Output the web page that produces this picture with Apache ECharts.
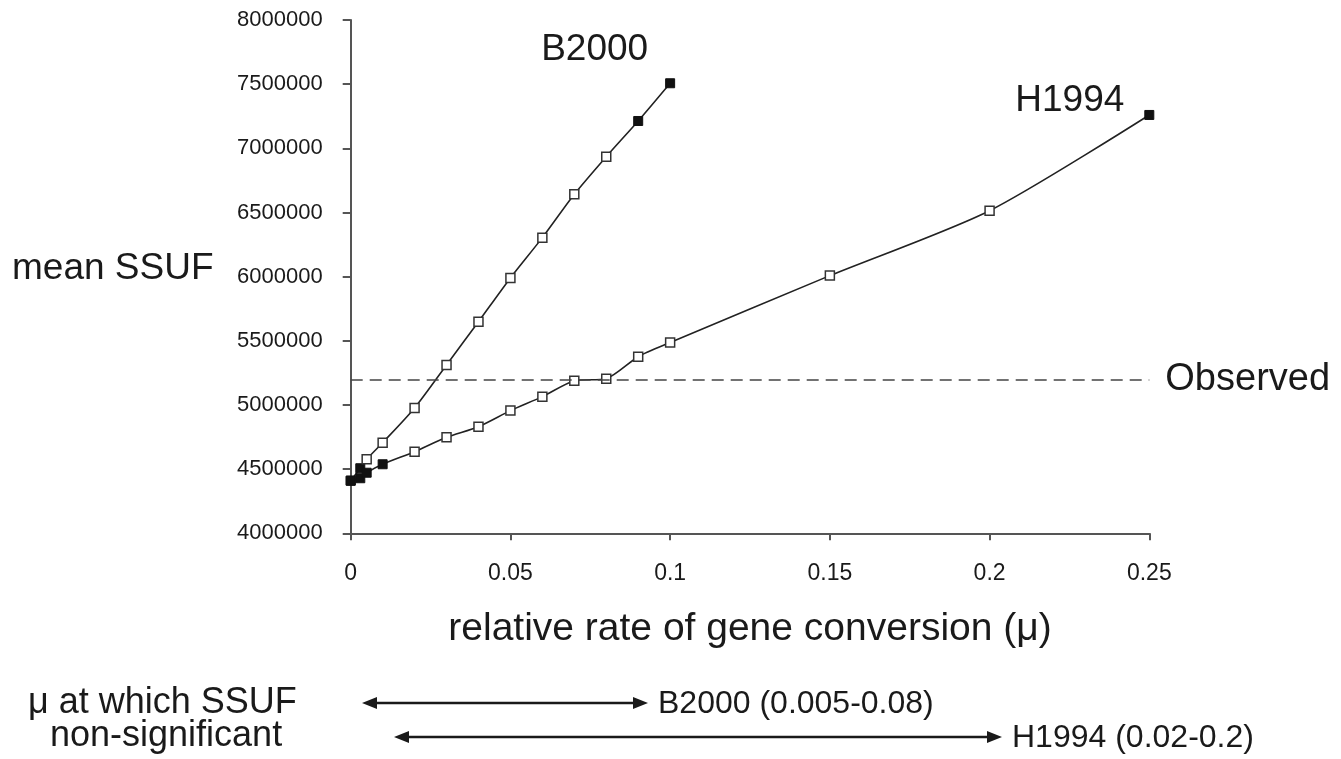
<!DOCTYPE html>
<html>
<head>
<meta charset="utf-8">
<script src="https://cdn.jsdelivr.net/npm/echarts@6/dist/echarts.min.js"></script>
<style>
html,body{margin:0;padding:0;background:#fff;}
#chart{width:1341px;height:759px;}
</style>
</head>
<body>
<div id="chart"></div>
<script>
// ---- data ----
const xB2000 = [0, 0.003, 0.005, 0.01, 0.02, 0.03, 0.04, 0.05, 0.06, 0.07, 0.08, 0.09, 0.1];
const yB2000 = [4410000, 4507000, 4577000, 4706000, 4977000, 5312000, 5649000, 5990000, 6304000, 6642000, 6935000, 7213000, 7507000];
const filledB2000 = [1, 1, 0, 0, 0, 0, 0, 0, 0, 0, 0, 1, 1];

const xH1994 = [0, 0.003, 0.005, 0.01, 0.02, 0.03, 0.04, 0.05, 0.06, 0.07, 0.08, 0.09, 0.1, 0.15, 0.2, 0.25];
const yH1994 = [4410000, 4429000, 4472000, 4538000, 4636000, 4748000, 4831000, 4956000, 5065000, 5189000, 5205000, 5376000, 5486000, 6008000, 6514000, 7260000];
const filledH1994 = [1, 1, 1, 1, 0, 0, 0, 0, 0, 0, 0, 0, 0, 0, 0, 1];

const observedValue = 5200000;
const xTickLabels = ['0', '0.05', '0.1', '0.15', '0.2', '0.25'];
const yTickLabels = ['4000000', '4500000', '5000000', '5500000', '6000000', '6500000', '7000000', '7500000', '8000000'];
const rangeLabels = ['B2000 (0.005-0.08)', 'H1994 (0.02-0.2)'];

const FONT = "'Liberation Sans', Arial, Helvetica, sans-serif";
const INK = '#1a1a1a';

function buildPoints(xs, ys, filled, lastLabel, labelOpts) {
  return xs.map((x, i) => {
    const p = {
      value: [x, ys[i]],
      itemStyle: filled[i]
        ? { color: '#111', borderColor: '#111', borderWidth: 1 }
        : { color: '#fff', borderColor: '#333', borderWidth: 1.5 }
    };
    if (i === xs.length - 1) {
      p.label = Object.assign({
        show: true, formatter: lastLabel, color: INK,
        fontFamily: FONT, fontSize: 37
      }, labelOpts);
    }
    return p;
  });
}

const chart = echarts.init(document.getElementById('chart'), null, { renderer: 'canvas' });

const arrowLine = (x1, x2, y) => ([
  { type: 'line', shape: { x1: x1 + 10, y1: y, x2: x2 - 10, y2: y }, style: { stroke: INK, lineWidth: 2.5 } },
  { type: 'polygon', shape: { points: [[x1, y], [x1 + 15, y - 6], [x1 + 15, y + 6]] }, style: { fill: INK } },
  { type: 'polygon', shape: { points: [[x2, y], [x2 - 15, y - 6], [x2 - 15, y + 6]] }, style: { fill: INK } }
]);

chart.setOption({
  animation: false,
  backgroundColor: '#fff',
  grid: { left: 350.7, right: 191.7, top: 20, bottom: 225.7, containLabel: false },
  xAxis: {
    type: 'value', min: 0, max: 0.25, interval: 0.05,
    name: 'relative rate of gene conversion (\u03bc)',
    nameLocation: 'middle', nameGap: 76,
    nameTextStyle: { fontFamily: FONT, fontSize: 39, color: INK },
    axisLine: { show: true, onZero: false, lineStyle: { color: '#555', width: 2 } },
    axisTick: { show: true, inside: false, length: 7, lineStyle: { color: '#555', width: 2 } },
    axisLabel: {
      margin: 29, fontFamily: FONT, fontSize: 23, color: INK,
      formatter: (v) => xTickLabels[Math.round(v / 0.05)]
    },
    splitLine: { show: false }
  },
  yAxis: {
    type: 'value', min: 4000000, max: 8000000, interval: 500000,
    axisLine: { show: true, lineStyle: { color: '#555', width: 2 } },
    axisTick: { show: true, inside: false, length: 8, lineStyle: { color: '#555', width: 2 } },
    axisLabel: {
      margin: 28, fontFamily: FONT, fontSize: 22, color: INK,
      formatter: (v) => yTickLabels[Math.round((v - 4000000) / 500000)]
    },
    splitLine: { show: false }
  },
  series: [
    {
      name: 'B2000', type: 'line', smooth: 0.25,
      symbol: 'rect', symbolSize: 9,
      lineStyle: { color: '#222', width: 1.6 },
      data: buildPoints(xB2000, yB2000, filledB2000, 'B2000',
        { position: 'left', distance: 17, offset: [0, -33] }),
      z: 3
    },
    {
      name: 'H1994', type: 'line', smooth: 0.25,
      symbol: 'rect', symbolSize: 9,
      lineStyle: { color: '#222', width: 1.6 },
      data: buildPoints(xH1994, yH1994, filledH1994, 'H1994',
        { position: 'left', distance: 20, offset: [0, -14] }),
      markLine: {
        silent: true, symbol: ['none', 'none'],
        lineStyle: { color: '#444', width: 1.6, type: [12, 7] },
        label: {
          show: true, position: 'end', distance: 16, formatter: 'Observed',
          fontFamily: FONT, fontSize: 38, color: INK
        },
        data: [[{ coord: [0, observedValue] }, { coord: [0.25, observedValue] }]]
      },
      z: 3
    }
  ],
  graphic: [
    { type: 'text', left: 12, top: 250, style: { text: 'mean SSUF', fontFamily: FONT, fontSize: 37, fill: INK } },
    { type: 'text', left: 28, top: 685, style: { text: '\u03bc at which SSUF', fontFamily: FONT, fontSize: 36, fill: INK } },
    { type: 'text', left: 50, top: 718, style: { text: 'non-significant', fontFamily: FONT, fontSize: 36, fill: INK } },
    ...arrowLine(362, 648, 703),
    { type: 'text', left: 658, top: 688, style: { text: rangeLabels[0], fontFamily: FONT, fontSize: 32, fill: INK } },
    ...arrowLine(394, 1002, 737),
    { type: 'text', left: 1012, top: 722, style: { text: rangeLabels[1], fontFamily: FONT, fontSize: 32, fill: INK } }
  ]
});
</script>
</body>
</html>
